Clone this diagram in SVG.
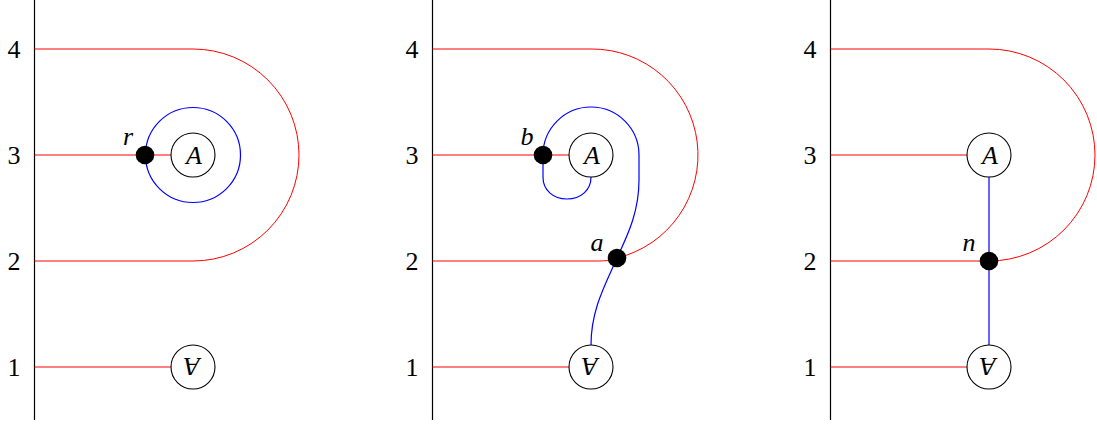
<svg xmlns="http://www.w3.org/2000/svg" width="1097" height="425" viewBox="0 0 1097 425">
<style>
.axis{stroke:#000;stroke-width:1.2;fill:none}
.red{stroke:#ff0000;stroke-width:1;fill:none}
.blue{stroke:#0000ff;stroke-width:1.2;fill:none}
.node{stroke:#000;stroke-width:1.1;fill:#fff}
.dot{fill:#000}
text{font-family:"Liberation Serif",serif;font-size:26px;fill:#000;text-anchor:middle}
text.lab{font-style:italic}
</style>
<g id="panel1">
<g id="connectors1">
<line class="axis" x1="34.5" y1="0" x2="34.5" y2="420"/>
<path class="red" d="M34.5,49 L193,49 A106,106 0 0 1 193,261 L34.5,261"/>
<line class="red" x1="34.5" y1="155" x2="171" y2="155"/>
<line class="red" x1="34.5" y1="367" x2="171" y2="367"/>
<circle class="blue" cx="193" cy="155" r="47.5"/>
</g>
<g id="labels1">
<text x="14" y="58" style="font-size:26px">4</text>
<text x="14" y="164">3</text>
<text x="14" y="270">2</text>
<text x="14" y="376">1</text>
</g>
<g id="p1-A"><circle class="node" cx="193" cy="155" r="22"/><text class="lab" x="194" y="164">A</text></g>
<g id="p1-Ainv"><circle class="node" cx="193" cy="367" r="22"/><text class="lab" x="194" y="376" transform="rotate(180 193 367)">A</text></g>
<g id="p1-r"><circle class="dot" cx="145" cy="155" r="9.3"/><text class="lab" x="128" y="145">r</text></g>
</g>
<g id="panel2">
<g id="connectors2">
<line class="axis" x1="432.5" y1="0" x2="432.5" y2="420"/>
<path class="red" d="M432.5,49 L591,49 A106,106 0 0 1 617,258"/>
<path class="red" d="M617,258 C609,261 603,261 596,261 L432.5,261"/>
<line class="red" x1="432.5" y1="155" x2="569" y2="155"/>
<line class="red" x1="432.5" y1="367" x2="569" y2="367"/>
<path class="blue" d="M543,155 A48,48 0 0 1 639,155 L639,180 C639,215 625,240 617,258 C605,285 591,310 591,345"/>
<path class="blue" d="M543,155 L543,177 C543,190 553,199 567,199 C581,199 591,190 591,177"/>
</g>
<g id="labels2">
<text x="412" y="58">4</text>
<text x="412" y="164">3</text>
<text x="412" y="270">2</text>
<text x="412" y="376">1</text>
</g>
<g id="p2-A"><circle class="node" cx="591" cy="155" r="22"/><text class="lab" x="592" y="164">A</text></g>
<g id="p2-Ainv"><circle class="node" cx="591" cy="367" r="22"/><text class="lab" x="592" y="376" transform="rotate(180 591 367)">A</text></g>
<g id="p2-b"><circle class="dot" cx="543" cy="155" r="9.3"/><text class="lab" x="527" y="145">b</text></g>
<g id="p2-a"><circle class="dot" cx="617" cy="258" r="9.3"/><text class="lab" x="597" y="251">a</text></g>
</g>
<g id="panel3">
<g id="connectors3">
<line class="axis" x1="830.5" y1="0" x2="830.5" y2="420"/>
<path class="red" d="M830.5,49 L989,49 A106,106 0 0 1 989,261 L830.5,261"/>
<line class="red" x1="830.5" y1="155" x2="967" y2="155"/>
<line class="red" x1="830.5" y1="367" x2="967" y2="367"/>
<line class="blue" x1="989" y1="177" x2="989" y2="345"/>
</g>
<g id="labels3">
<text x="810" y="58">4</text>
<text x="810" y="164">3</text>
<text x="810" y="270">2</text>
<text x="810" y="376">1</text>
</g>
<g id="p3-A"><circle class="node" cx="989" cy="155" r="22"/><text class="lab" x="990" y="164">A</text></g>
<g id="p3-Ainv"><circle class="node" cx="989" cy="367" r="22"/><text class="lab" x="990" y="376" transform="rotate(180 989 367)">A</text></g>
<g id="p3-n"><circle class="dot" cx="989" cy="261" r="9.3"/><text class="lab" x="969" y="251">n</text></g>
</g>
</svg>
